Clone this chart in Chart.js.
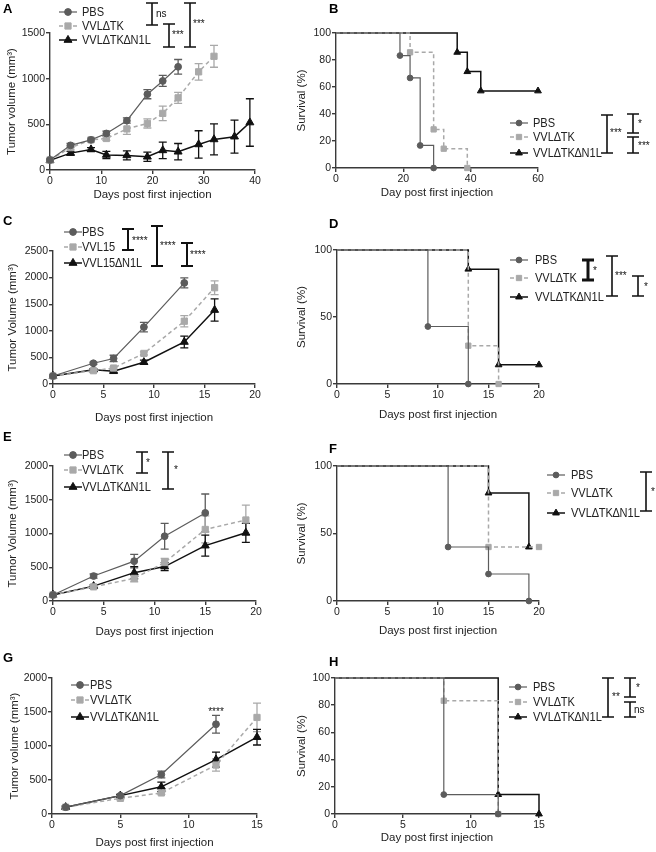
<!DOCTYPE html>
<html>
<head>
<meta charset="utf-8">
<script src="https://cdn.jsdelivr.net/npm/chart.js@4.4.1/dist/chart.umd.min.js"></script>
<style>
html, body { margin:0; padding:0; background:#fff; width:656px; height:852px; overflow:hidden; position:relative; }
canvas { position:absolute; }
</style>
</head>
<body>
<script>
// ---------- data ----------
// A: tumour volume
const aDaysPBS = [0, 4, 8, 11, 15, 19, 22, 25];
const aPBS     = [110, 270, 330, 400, 540, 830, 975, 1130];
const aPBSerr  = [15, 20, 20, 25, 30, 50, 60, 80];
const aDaysTK  = [0, 4, 8, 11, 15, 19, 22, 25, 29, 32];
const aTK      = [110, 245, 330, 345, 450, 510, 620, 790, 1075, 1245];
const aTKerr   = [15, 20, 20, 20, 60, 50, 80, 60, 90, 120];
const aDaysN1L = [0, 4, 8, 11, 15, 19, 22, 25, 29, 32, 36, 39];
const aN1L     = [105, 185, 225, 165, 160, 145, 215, 200, 280, 335, 365, 520];
const aN1Lerr  = [15, 20, 20, 40, 50, 50, 90, 90, 150, 170, 180, 260];

// B: survival
const bPBSx = [0, 19, 22, 25, 29];  const bPBS = [100, 83.3, 66.7, 16.7, 0];
const bTKx  = [0, 22, 29, 32, 39];  const bTK  = [100, 85.7, 28.6, 14.3, 0];
const bN1Lx = [0, 36, 39, 43, 60];  const bN1L = [100, 85.7, 71.4, 57.1, 57.1];

// C: tumour volume
const cDays     = [0, 4, 6, 9, 13, 16];
const cPBS      = [150, 390, 480, 1070, 1900];
const cPBSerr   = [20, 20, 60, 90, 95];
const cVVL15    = [150, 250, 300, 575, 1180, 1810];
const cVVL15err = [20, 20, 20, 30, 105, 130];
const cN1L      = [150, 270, 240, 410, 790, 1390];
const cN1Lerr   = [20, 20, 20, 40, 110, 210];

// D: survival
const dPBSx = [0, 9, 13];      const dPBS = [100, 42.9, 0];
const dTKx  = [0, 13, 16];     const dTK  = [100, 28.6, 0];
const dN1Lx = [0, 13, 16, 20]; const dN1L = [100, 85.7, 14.3, 14.3];

// E: tumour volume
const eDays    = [0, 4, 8, 11, 15, 19];
const ePBS     = [90, 370, 590, 960, 1305];
const ePBSerr  = [10, 30, 100, 190, 280];
const eTK      = [90, 210, 335, 570, 1060, 1200];
const eTKerr   = [10, 20, 50, 60, 200, 220];
const eN1L     = [90, 220, 420, 510, 820, 1010];
const eN1Lerr  = [10, 20, 90, 60, 155, 140];

// F: survival
const fPBSx = [0, 11, 15, 19]; const fPBS = [100, 40, 20, 0];
const fTKx  = [0, 15, 20];     const fTK  = [100, 40, 40];
const fN1Lx = [0, 15, 19];     const fN1L = [100, 80, 40];

// G: tumour volume
const gDays   = [1, 5, 8, 12, 15];
const gPBS    = [100, 270, 580, 1320];
const gPBSerr = [15, 20, 50, 130];
const gTK     = [100, 230, 310, 720, 1420];
const gTKerr  = [15, 20, 20, 90, 210];
const gN1L    = [100, 270, 400, 800, 1130];
const gN1Lerr = [15, 20, 70, 110, 115];

// H: survival
const hPBSx = [0, 8, 12];  const hPBS = [100, 14.3, 0];
const hTKx  = [0, 8, 12];  const hTK  = [100, 83.3, 0];
const hN1Lx = [0, 12, 15]; const hN1L = [100, 14.3, 0];

const namesTK  = ['PBS', 'VVL\u2206TK', 'VVL\u2206TK\u2206N1L'];
const namesL15 = ['PBS', 'VVL15', 'VVL15\u2206N1L'];

// ---------- styles ----------
const FAM = '"Liberation Sans", Arial, sans-serif';
const AXIS = '#3a3a3a';
const TXT = '#222';
const STY = {
  pbs: {color: '#5c5c5c', shape: 'circle',   dash: [],     lw: 1.2, r: 3.4},
  tk:  {color: '#a9a9a9', shape: 'rect',     dash: [4, 3], lw: 1.5, r: 4.4},
  n1l: {color: '#111111', shape: 'triangle', dash: [],     lw: 1.5, r: 4.6}
};

function marker(ctx, shape, x, y, r, color) {
  ctx.save();
  ctx.fillStyle = color; ctx.strokeStyle = color; ctx.setLineDash([]); ctx.lineWidth = 1;
  ctx.beginPath();
  if (shape === 'circle') ctx.arc(x, y, r, 0, Math.PI * 2);
  else if (shape === 'rect') { const s = Math.SQRT1_2 * r; ctx.rect(x - s, y - s, 2 * s, 2 * s); }
  else {
    for (let k = 0; k < 3; k++) {
      const a = k * 2 * Math.PI / 3;
      const px = x + Math.sin(a) * r, py = y - Math.cos(a) * r;
      k === 0 ? ctx.moveTo(px, py) : ctx.lineTo(px, py);
    }
  }
  ctx.closePath(); ctx.fill(); ctx.stroke();
  ctx.restore();
}

function makeSet(key, xs, ys, err, km) {
  const s = STY[key];
  return {
    key: key,
    data: ys.map((v, i) => ({x: xs[i], y: v})),
    err: err,
    borderColor: s.color, backgroundColor: s.color,
    borderWidth: s.lw, borderDash: s.dash,
    pointStyle: s.shape,
    pointRadius: km ? (c => c.dataIndex === 0 ? 0 : s.r * 0.85) : s.r,
    pointBackgroundColor: s.color, pointBorderColor: s.color, pointBorderWidth: 1,
    stepped: km ? 'before' : false,
    tension: 0, clip: false, fill: false
  };
}

// ---------- panels (page coordinates) ----------
const panels = [
  {label: 'A', box: [0, 0, 295, 224], area: [50, 33, 255, 170], yTitleX: 12, xTitleY: 195, labelPos: [3, 9],
   x: [40, 10, 'Days post first injection'], y: [1500, 500, 'Tumor volume (mm\u00b3)'], km: false,
   sets: [['pbs', aDaysPBS, aPBS, aPBSerr], ['tk', aDaysTK, aTK, aTKerr], ['n1l', aDaysN1L, aN1L, aN1Lerr]],
   legend: {mx: 68, tx: 82, rows: [12, 26, 40], names: namesTK},
   brackets: [[152, 3, 25, 'ns', 156, 14], [169, 24, 47, '***', 172, 35], [190, 3, 47, '***', 193, 24]]},
  {label: 'B', box: [295, 0, 361, 224], area: [336, 33, 538, 168], yTitleX: 302, xTitleY: 193, labelPos: [329, 9],
   x: [60, 20, 'Day post first injection'], y: [100, 20, 'Survival (%)'], km: true,
   sets: [['pbs', bPBSx, bPBS], ['tk', bTKx, bTK], ['n1l', bN1Lx, bN1L]],
   legend: {mx: 519, tx: 533, rows: [123, 137, 153], names: namesTK},
   brackets: [[607, 115, 153, '***', 610, 133], [633, 114, 133, '*', 638, 124], [633, 137, 153, '***', 638, 146]]},
  {label: 'C', box: [0, 205, 295, 224], area: [53, 251, 255, 384], yTitleX: 13, xTitleY: 418, labelPos: [3, 221],
   x: [20, 5, 'Days post first injection'], y: [2500, 500, 'Tumor Volume (mm\u00b3)'], km: false,
   sets: [['pbs', cDays, cPBS, cPBSerr], ['tk', cDays, cVVL15, cVVL15err], ['n1l', cDays, cN1L, cN1Lerr]],
   legend: {mx: 73, tx: 82, rows: [232, 247, 263], names: namesL15},
   brackets: [[128, 229, 250, '****', 132, 241, 2], [157, 226, 266, '****', 160, 246, 2], [187, 243, 266, '****', 190, 255, 2]]},
  {label: 'D', box: [295, 205, 361, 224], area: [337, 250, 539, 384], yTitleX: 302, xTitleY: 415, labelPos: [329, 224],
   x: [20, 5, 'Days post first injection'], y: [100, 50, 'Survival (%)'], km: true,
   sets: [['pbs', dPBSx, dPBS], ['tk', dTKx, dTK], ['n1l', dN1Lx, dN1L]],
   legend: {mx: 519, tx: 535, rows: [260, 278, 297], names: namesTK},
   brackets: [[588, 260, 280, '*', 593, 271, 3], [612, 256, 296, '***', 615, 276], [638, 276, 296, '*', 644, 287]]},
  {label: 'E', box: [0, 415, 295, 224], area: [53, 466, 256, 601], yTitleX: 12.5, xTitleY: 632, labelPos: [3, 437],
   x: [20, 5, 'Days post first injection'], y: [2000, 500, 'Tumor Volume (mm\u00b3)'], km: false,
   sets: [['pbs', eDays, ePBS, ePBSerr], ['tk', eDays, eTK, eTKerr], ['n1l', eDays, eN1L, eN1Lerr]],
   legend: {mx: 73, tx: 82, rows: [455, 470, 487], names: namesTK},
   brackets: [[142, 452, 473, '*', 146, 463], [168, 452, 489, '*', 174, 470]]},
  {label: 'F', box: [295, 415, 361, 224], area: [337, 466, 539, 601], yTitleX: 302, xTitleY: 631, labelPos: [329, 449],
   x: [20, 5, 'Days post first injection'], y: [100, 50, 'Survival (%)'], km: true,
   sets: [['pbs', fPBSx, fPBS], ['tk', fTKx, fTK], ['n1l', fN1Lx, fN1L]],
   legend: {mx: 556, tx: 571, rows: [475, 493, 513], names: namesTK},
   brackets: [[646, 472, 511, '*', 651, 492]]},
  {label: 'G', box: [0, 628, 295, 224], area: [52, 678, 257, 814], yTitleX: 15, xTitleY: 843, labelPos: [3, 658],
   x: [15, 5, 'Days post first injection'], y: [2000, 500, 'Tumor volume (mm\u00b3)'], km: false,
   sets: [['pbs', gDays, gPBS, gPBSerr], ['tk', gDays, gTK, gTKerr], ['n1l', gDays, gN1L, gN1Lerr]],
   legend: {mx: 80, tx: 90, rows: [685, 700, 717], names: namesTK},
   brackets: [], note: {day: 12, y: 712, text: '****'}},
  {label: 'H', box: [295, 628, 361, 224], area: [335, 678, 539, 814], yTitleX: 302, xTitleY: 838, labelPos: [329, 662],
   x: [15, 5, 'Day post first injection'], y: [100, 20, 'Survival (%)'], km: true,
   sets: [['pbs', hPBSx, hPBS], ['tk', hTKx, hTK], ['n1l', hN1Lx, hN1L]],
   legend: {mx: 518, tx: 533, rows: [687, 702, 717], names: namesTK},
   brackets: [[608, 678, 717, '**', 612, 697], [630, 678, 697, '*', 636, 688], [630, 702, 717, 'ns', 634, 710]]}
];

function overlay(p) {
  const ox = p.box[0], oy = p.box[1];
  return {
    id: 'overlay' + p.label,
    beforeDatasetsDraw(chart) {
      const ctx = chart.ctx, ys = chart.scales.y;
      chart.data.datasets.forEach((ds, i) => {
        if (!ds.err) return;
        const meta = chart.getDatasetMeta(i);
        ctx.save();
        ctx.strokeStyle = ds.borderColor; ctx.lineWidth = 1.3; ctx.setLineDash([]);
        ds.data.forEach((pt, j) => {
          const e = ds.err[j]; if (!e) return;
          const x = meta.data[j].x;
          const y1 = ys.getPixelForValue(pt.y + e), y2 = ys.getPixelForValue(pt.y - e);
          ctx.beginPath();
          ctx.moveTo(x, y1); ctx.lineTo(x, y2);
          ctx.moveTo(x - 4, y1); ctx.lineTo(x + 4, y1);
          ctx.moveTo(x - 4, y2); ctx.lineTo(x + 4, y2);
          ctx.stroke();
        });
        ctx.restore();
      });
    },
    afterDraw(chart) {
      const ctx = chart.ctx;
      ctx.save();
      // panel letter
      ctx.fillStyle = '#000'; ctx.font = 'bold 13px ' + FAM;
      ctx.textBaseline = 'middle'; ctx.textAlign = 'left';
      ctx.fillText(p.label, p.labelPos[0] - ox, p.labelPos[1] - oy);
      // legend (text squeezed horizontally like the narrow face of the original)
      const lg = p.legend;
      chart.data.datasets.forEach((ds, i) => {
        const s = STY[ds.key];
        const mx = lg.mx - ox, y = lg.rows[i] - oy;
        ctx.strokeStyle = s.color; ctx.lineWidth = s.lw; ctx.setLineDash(s.dash);
        ctx.beginPath(); ctx.moveTo(mx - 9, y); ctx.lineTo(mx + 9, y); ctx.stroke();
        marker(ctx, s.shape, mx, y, p.km ? s.r * 0.85 : s.r, s.color);
        ctx.save();
        ctx.translate(lg.tx - ox, y + 0.5);
        ctx.scale(0.85, 1);
        ctx.fillStyle = TXT; ctx.font = '13px ' + FAM;
        ctx.fillText(lg.names[i], 0, 0);
        ctx.restore();
      });
      // significance brackets
      ctx.setLineDash([]);
      p.brackets.forEach(b => {
        const x = b[0] - ox, y1 = b[1] - oy, y2 = b[2] - oy;
        ctx.strokeStyle = '#111'; ctx.lineWidth = b[6] || 1.6;
        ctx.beginPath();
        ctx.moveTo(x, y1); ctx.lineTo(x, y2);
        ctx.moveTo(x - 6, y1); ctx.lineTo(x + 6, y1);
        ctx.moveTo(x - 6, y2); ctx.lineTo(x + 6, y2);
        ctx.stroke();
        ctx.fillStyle = '#111'; ctx.font = '10px ' + FAM;
        ctx.fillText(b[3], b[4] - ox, b[5] - oy);
      });
      if (p.note) {
        ctx.fillStyle = '#111'; ctx.font = '10px ' + FAM; ctx.textAlign = 'center';
        ctx.fillText(p.note.text, chart.scales.x.getPixelForValue(p.note.day), p.note.y - oy);
      }
      ctx.restore();
    }
  };
}

function axisOpts(max, step, title, fit) {
  return {
    type: 'linear', min: 0, max: max,
    ticks: {stepSize: step, color: TXT, font: {family: FAM, size: 10.5}, padding: 1, maxRotation: 0,
            format: {useGrouping: false}},
    grid: {drawOnChartArea: false, drawTicks: true, tickLength: 4, color: AXIS, lineWidth: 1.4},
    border: {color: AXIS, width: 1.4},
    title: {display: true, text: title, color: TXT, padding: 0, font: {family: FAM, size: 11.5, lineHeight: 1.2}},
    afterFit: fit
  };
}

panels.forEach(p => {
  const [bx, by, bw, bh] = p.box;
  const [L, T, R, B] = p.area;
  const half = 6.9;
  const padLeft = Math.max(0, p.yTitleX - bx - half);
  const yWidth = (L - bx) - padLeft;
  const padBottom = bh - (p.xTitleY - by + half);
  const xHeight = (p.xTitleY - by + half) - (B - by);

  const cv = document.createElement('canvas');
  cv.width = bw; cv.height = bh;
  cv.style.left = bx + 'px'; cv.style.top = by + 'px';
  document.body.appendChild(cv);

  new Chart(cv.getContext('2d'), {
    type: 'line',
    data: {datasets: p.sets.map(s => makeSet(s[0], s[1], s[2], s[3], p.km))},
    options: {
      responsive: false, animation: false, devicePixelRatio: 1,
      layout: {padding: {left: padLeft, top: T - by, right: bw - (R - bx), bottom: padBottom}},
      plugins: {legend: {display: false}, tooltip: {enabled: false}},
      scales: {
        x: axisOpts(p.x[0], p.x[1], p.x[2], s => { s.height = xHeight; }),
        y: axisOpts(p.y[0], p.y[1], p.y[2], s => { s.width = yWidth; })
      }
    },
    plugins: [overlay(p)]
  });
});
</script>
</body>
</html>
